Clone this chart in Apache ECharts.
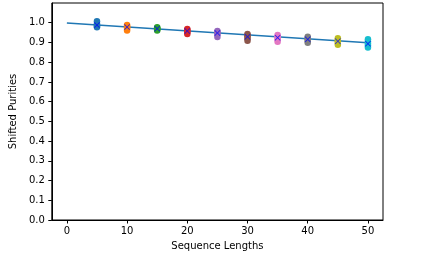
<!DOCTYPE html>
<html><head><meta charset="utf-8">
<script src="https://cdn.jsdelivr.net/npm/echarts@6/dist/echarts.min.js"></script>
<style>html,body{margin:0;padding:0;background:#fff}#c{width:432px;height:269px}</style>
</head><body><div id="c"></div>
<script>
const lengths = [5, 10, 15, 20, 25, 30, 35, 40, 45, 50];
const samples = [
  [1.007, 0.995, 0.988, 0.982, 0.977],
  [0.988, 0.982, 0.977, 0.970, 0.960],
  [0.977, 0.973, 0.970, 0.966, 0.960],
  [0.968, 0.963, 0.958, 0.950, 0.943],
  [0.958, 0.953, 0.948, 0.940, 0.928],
  [0.943, 0.937, 0.930, 0.920, 0.909],
  [0.938, 0.930, 0.925, 0.915, 0.903],
  [0.929, 0.922, 0.916, 0.908, 0.898],
  [0.921, 0.913, 0.906, 0.897, 0.888],
  [0.916, 0.905, 0.895, 0.884, 0.874]
];
const means = [0.988, 0.978, 0.970, 0.958, 0.948, 0.929, 0.924, 0.916, 0.906, 0.894];
const fitX = [0, 50];
const fitY = [0.999, 0.899];
const yTicks = [0, 0.1, 0.2, 0.3, 0.4, 0.5, 0.6, 0.7, 0.8, 0.9, 1.0];
const xTicks = [0, 10, 20, 30, 40, 50];
const colors = ['#1f77b4','#ff7f0e','#2ca02c','#d62728','#9467bd','#8c564b','#e377c2','#7f7f7f','#bcbd22','#17becf'];

const font = 'DejaVu Sans';
const series = [];
series.push({
  type: 'line', data: fitX.map((x, i) => [x, fitY[i]]), symbol: 'none',
  lineStyle: {color: '#1f77b4', width: 1.5}, z: 2, silent: true
});
lengths.forEach((L, i) => {
  series.push({
    type: 'scatter', data: samples[i].map(v => [L, v]), symbol: 'circle', symbolSize: 6.5,
    itemStyle: {color: colors[i], opacity: 1}, z: 3, silent: true
  });
});
series.push({
  type: 'scatter', data: lengths.map((L, i) => [L, means[i]]),
  symbol: 'path://M0,1L1,0L5,4L9,0L10,1L6,5L10,9L9,10L5,6L1,10L0,9L4,5Z', symbolSize: 6,
  itemStyle: {color: '#0000ff'}, z: 4, silent: true
});

const chart = echarts.init(document.getElementById('c'), null, {renderer: 'canvas'});
chart.setOption({
  animation: false,
  backgroundColor: '#fff',
  grid: {left: 47, right: 49, top: 3, bottom: 49, show: true, borderColor: '#000', borderWidth: 1, backgroundColor: 'transparent'},
  xAxis: {
    type: 'value', min: -2.5, max: 52.5, interval: 10,
    name: 'Sequence Lengths', nameLocation: 'middle', nameGap: 21,
    nameTextStyle: {fontFamily: font, fontSize: 10, color: '#000'},
    axisLine: {show: true, onZero: false, lineStyle: {color: '#000', width: 1}},
    axisTick: {show: true, length: 3.5, lineStyle: {color: '#000'}, customValues: xTicks},
    axisLabel: {fontFamily: font, fontSize: 10, color: '#000', margin: 6, customValues: xTicks},
    splitLine: {show: false}
  },
  yAxis: {
    type: 'value', min: 0, max: 1.1, interval: 0.1,
    name: 'Shifted Purities', nameLocation: 'middle', nameGap: 23,
    nameTextStyle: {fontFamily: font, fontSize: 10, color: '#000'},
    axisLine: {show: true, onZero: false, lineStyle: {color: '#000', width: 1}},
    axisTick: {show: true, length: 3.5, lineStyle: {color: '#000'}, customValues: yTicks},
    axisLabel: {fontFamily: font, fontSize: 10, color: '#000', margin: 7, customValues: yTicks,
      formatter: v => v.toFixed(1)},
    splitLine: {show: false}
  },
  series: series
});
</script></body></html>
